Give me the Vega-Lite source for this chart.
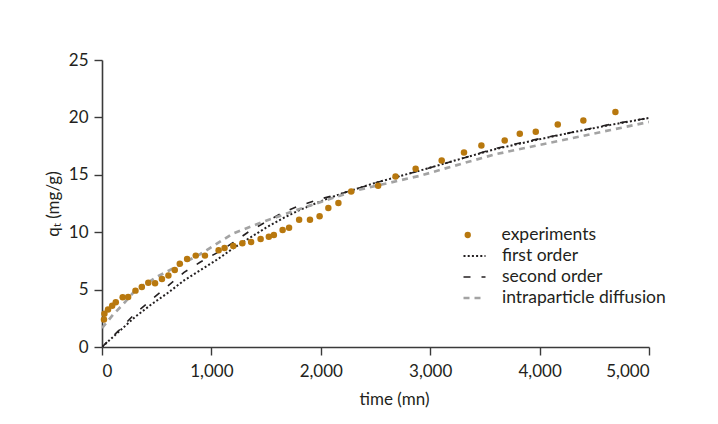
{
  "$schema": "https://vega.github.io/schema/vega-lite/v6.json",
  "autosize": {"type": "none"},
  "padding": {"left": 102, "top": 60, "right": 69, "bottom": 77},
  "width": 547,
  "height": 287,
  "background": "white",
  "config": {
    "view": {"stroke": null},
    "font": "Lato",
    "axis": {
      "grid": false,
      "domainColor": "#3a3a3a",
      "domainWidth": 1.6,
      "tickColor": "#3a3a3a",
      "tickWidth": 1.4,
      "tickSize": 8,
      "labelFont": "Lato",
      "labelFontSize": 17,
      "labelColor": "#231f20",
      "titleFont": "Lato",
      "titleFontSize": 17,
      "titleFontWeight": "normal",
      "titleColor": "#231f20"
    },
    "legend": {
      "labelFont": "Lato",
      "labelFontSize": 17.5,
      "labelColor": "#231f20",
      "labelLimit": 400,
      "padding": 0,
      "clipHeight": 20,
      "rowPadding": 1
    }
  },
  "datasets": {
    "exp": [
      {"series": "experiments", "t": 18, "q": 2.39},
      {"series": "experiments", "t": 22, "q": 2.9},
      {"series": "experiments", "t": 55, "q": 3.26},
      {"series": "experiments", "t": 93, "q": 3.6},
      {"series": "experiments", "t": 126, "q": 3.9},
      {"series": "experiments", "t": 189, "q": 4.33},
      {"series": "experiments", "t": 239, "q": 4.36},
      {"series": "experiments", "t": 306, "q": 4.91},
      {"series": "experiments", "t": 364, "q": 5.23},
      {"series": "experiments", "t": 423, "q": 5.6},
      {"series": "experiments", "t": 485, "q": 5.55},
      {"series": "experiments", "t": 548, "q": 5.93},
      {"series": "experiments", "t": 607, "q": 6.22},
      {"series": "experiments", "t": 665, "q": 6.7},
      {"series": "experiments", "t": 711, "q": 7.26},
      {"series": "experiments", "t": 778, "q": 7.67},
      {"series": "experiments", "t": 857, "q": 7.96},
      {"series": "experiments", "t": 941, "q": 7.96},
      {"series": "experiments", "t": 1066, "q": 8.42},
      {"series": "experiments", "t": 1120, "q": 8.62},
      {"series": "experiments", "t": 1200, "q": 8.8},
      {"series": "experiments", "t": 1283, "q": 9.03},
      {"series": "experiments", "t": 1363, "q": 9.15},
      {"series": "experiments", "t": 1450, "q": 9.41},
      {"series": "experiments", "t": 1525, "q": 9.61},
      {"series": "experiments", "t": 1571, "q": 9.75},
      {"series": "experiments", "t": 1651, "q": 10.19},
      {"series": "experiments", "t": 1710, "q": 10.39},
      {"series": "experiments", "t": 1802, "q": 11.09},
      {"series": "experiments", "t": 1901, "q": 11.09},
      {"series": "experiments", "t": 1989, "q": 11.38},
      {"series": "experiments", "t": 2069, "q": 12.1},
      {"series": "experiments", "t": 2161, "q": 12.54},
      {"series": "experiments", "t": 2278, "q": 13.55},
      {"series": "experiments", "t": 2524, "q": 14.04},
      {"series": "experiments", "t": 2683, "q": 14.85},
      {"series": "experiments", "t": 2867, "q": 15.52},
      {"series": "experiments", "t": 3105, "q": 16.24},
      {"series": "experiments", "t": 3309, "q": 16.94},
      {"series": "experiments", "t": 3468, "q": 17.55},
      {"series": "experiments", "t": 3681, "q": 17.98},
      {"series": "experiments", "t": 3819, "q": 18.57},
      {"series": "experiments", "t": 3965, "q": 18.74},
      {"series": "experiments", "t": 4166, "q": 19.38},
      {"series": "experiments", "t": 4400, "q": 19.72},
      {"series": "experiments", "t": 4693, "q": 20.48}
    ],
    "model": [
      {"series": "first order", "t": 0, "q": 0},
      {"series": "first order", "t": 150, "q": 1.3},
      {"series": "first order", "t": 300, "q": 2.6},
      {"series": "first order", "t": 450, "q": 3.7},
      {"series": "first order", "t": 600, "q": 4.7},
      {"series": "first order", "t": 750, "q": 5.8},
      {"series": "first order", "t": 900, "q": 6.7},
      {"series": "first order", "t": 1050, "q": 7.6},
      {"series": "first order", "t": 1200, "q": 8.6},
      {"series": "first order", "t": 1350, "q": 9.5},
      {"series": "first order", "t": 1500, "q": 10.4},
      {"series": "first order", "t": 1650, "q": 11.2},
      {"series": "first order", "t": 1800, "q": 11.9},
      {"series": "first order", "t": 2000, "q": 12.7},
      {"series": "first order", "t": 2200, "q": 13.4},
      {"series": "first order", "t": 2500, "q": 14.3},
      {"series": "first order", "t": 2900, "q": 15.35},
      {"series": "first order", "t": 3300, "q": 16.45},
      {"series": "first order", "t": 3600, "q": 17.25},
      {"series": "first order", "t": 4000, "q": 18.1},
      {"series": "first order", "t": 4300, "q": 18.7},
      {"series": "first order", "t": 4650, "q": 19.35},
      {"series": "first order", "t": 5000, "q": 19.95},
      {"series": "second order", "t": 0, "q": 0},
      {"series": "second order", "t": 150, "q": 1.4},
      {"series": "second order", "t": 300, "q": 2.9},
      {"series": "second order", "t": 450, "q": 4.1},
      {"series": "second order", "t": 600, "q": 5.3},
      {"series": "second order", "t": 750, "q": 6.5},
      {"series": "second order", "t": 900, "q": 7.4},
      {"series": "second order", "t": 1050, "q": 8.2},
      {"series": "second order", "t": 1200, "q": 9.1},
      {"series": "second order", "t": 1350, "q": 10.1},
      {"series": "second order", "t": 1500, "q": 10.9},
      {"series": "second order", "t": 1650, "q": 11.7},
      {"series": "second order", "t": 1800, "q": 12.3},
      {"series": "second order", "t": 2000, "q": 12.9},
      {"series": "second order", "t": 2200, "q": 13.4},
      {"series": "second order", "t": 2500, "q": 14.3},
      {"series": "second order", "t": 2900, "q": 15.35},
      {"series": "second order", "t": 3300, "q": 16.45},
      {"series": "second order", "t": 3600, "q": 17.3},
      {"series": "second order", "t": 4000, "q": 18.15},
      {"series": "second order", "t": 4300, "q": 18.7},
      {"series": "second order", "t": 4650, "q": 19.4},
      {"series": "second order", "t": 5000, "q": 19.95},
      {"series": "intraparticle diffusion", "t": 0, "q": 1.65},
      {"series": "intraparticle diffusion", "t": 100, "q": 2.8},
      {"series": "intraparticle diffusion", "t": 200, "q": 3.8},
      {"series": "intraparticle diffusion", "t": 300, "q": 4.9},
      {"series": "intraparticle diffusion", "t": 500, "q": 6.1},
      {"series": "intraparticle diffusion", "t": 700, "q": 7.1},
      {"series": "intraparticle diffusion", "t": 900, "q": 8.1},
      {"series": "intraparticle diffusion", "t": 1000, "q": 8.7},
      {"series": "intraparticle diffusion", "t": 1200, "q": 9.9},
      {"series": "intraparticle diffusion", "t": 1500, "q": 11.0},
      {"series": "intraparticle diffusion", "t": 1800, "q": 12.0},
      {"series": "intraparticle diffusion", "t": 2100, "q": 12.95},
      {"series": "intraparticle diffusion", "t": 2350, "q": 13.7},
      {"series": "intraparticle diffusion", "t": 2900, "q": 14.9},
      {"series": "intraparticle diffusion", "t": 3300, "q": 16.0},
      {"series": "intraparticle diffusion", "t": 3600, "q": 16.8},
      {"series": "intraparticle diffusion", "t": 4000, "q": 17.6},
      {"series": "intraparticle diffusion", "t": 4300, "q": 18.2},
      {"series": "intraparticle diffusion", "t": 4650, "q": 18.9},
      {"series": "intraparticle diffusion", "t": 5000, "q": 19.6}
    ]
  },
  "encoding": {
    "x": {
      "field": "t", "type": "quantitative",
      "scale": {"domain": [0, 5000], "nice": false, "zero": false},
      "axis": {"title": "time (mn)", "values": [0, 1000, 2000, 3000, 4000, 5000], "format": ",d", "labelPadding": 8, "titlePadding": 12, "titleX": 292}
    },
    "y": {
      "field": "q", "type": "quantitative",
      "scale": {"domain": [0, 25], "nice": false},
      "axis": {"title": "qₜ (mg/g)", "values": [0, 5, 10, 15, 20, 25], "labelPadding": 6, "titlePadding": 6}
    }
  },
  "layer": [
    {
      "data": {"name": "model"},
      "mark": {"type": "line", "clip": true},
      "encoding": {
        "stroke": {
          "field": "series", "type": "ordinal",
          "scale": {"domain": ["first order", "second order", "intraparticle diffusion"], "range": ["#231f20", "#231f20", "#a3a3a3"]},
          "legend": {"orient": "none", "legendX": 360, "legendY": 186, "title": null, "labelOffset": 15, "symbolSize": 484, "symbolType": "stroke"}
        },
        "strokeDash": {
          "field": "series", "type": "ordinal",
          "scale": {"domain": ["first order", "second order", "intraparticle diffusion"], "range": [[2, 2.2], [7, 11], [6, 5]]},
          "legend": {"orient": "none", "legendX": 360, "legendY": 186, "title": null, "labelOffset": 15, "symbolSize": 484, "symbolType": "stroke"}
        },
        "strokeWidth": {
          "field": "series", "type": "ordinal",
          "scale": {"type": "ordinal", "domain": ["first order", "second order", "intraparticle diffusion"], "range": [2, 1.6, 2.7]},
          "legend": {"orient": "none", "legendX": 360, "legendY": 186, "title": null, "labelOffset": 15, "symbolSize": 484, "symbolType": "stroke"}
        }
      }
    },
    {
      "data": {"name": "exp"},
      "mark": {"type": "point", "filled": true, "opacity": 1, "size": 42},
      "encoding": {
        "fill": {
          "field": "series", "type": "nominal",
          "scale": {"domain": ["experiments"], "range": ["#b8780e"]},
          "legend": {"orient": "none", "legendX": 357, "legendY": 165, "title": null, "labelOffset": 25, "symbolSize": 40, "symbolType": "circle"}
        }
      }
    }
  ]
}
